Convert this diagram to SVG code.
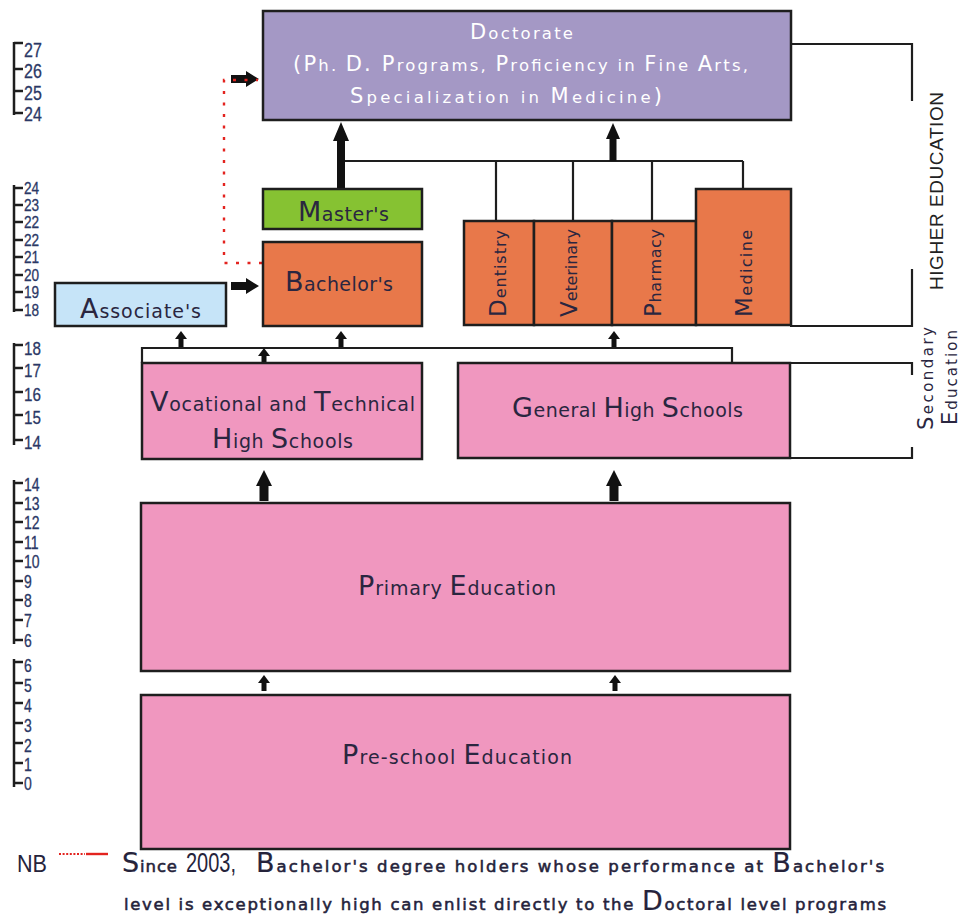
<svg xmlns="http://www.w3.org/2000/svg" width="963" height="915" viewBox="0 0 963 915">
  <style>
    .box { stroke: #1e1e1e; stroke-width: 2.5; }
    .doc { fill: #a498c5; }
    .mas { fill: #86c232; }
    .org { fill: #e8784a; }
    .asc { fill: #c6e4f8; }
    .pnk { fill: #f097bf; }
    .ln { fill: none; stroke: #1e1e1e; stroke-width: 2.2; }
    .arw { fill: #111; }
    .t { font-family: "DejaVu Sans", "Liberation Sans", sans-serif; font-size: 19px; fill: #2a2640; }
    .t .b { font-size: 27px; }
    .w { fill: #ffffff; font-size: 16.5px; }
    .w .b { font-size: 21px; }
    .v { font-size: 16px; }
    .v .b { font-size: 23px; }
    .sec { font-size: 15px; }
    .sec .b { font-size: 21px; }
    .age { font-family: "Liberation Sans", Arial, sans-serif; fill: #2b3866; stroke: #2b3866; stroke-width: 0.3; }
    .scale { fill: none; stroke: #1e1e1e; stroke-width: 2.5; }
    .nb { font-family: "DejaVu Sans", "Liberation Sans", sans-serif; font-size: 16.5px; fill: #25233b; stroke: #25233b; stroke-width: 0.55; }
    .nb .b { font-size: 27px; stroke-width: 0.2; }
    .hd { font-family: "Liberation Sans", Arial, sans-serif; font-size: 19px; fill: #222; }
  </style>

  <!-- age scales -->
  <g id="age-scales">
    <path class="scale" d="M14,42 V115 M14,43 H23 M14,69 H23 M14,91 H23 M14,113 H23"/>
    <path class="scale" d="M14,185 V312 M14,188 H23 M14,205 H23 M14,222 H23 M14,240 H23 M14,257 H23 M14,275 H23 M14,292 H23 M14,310 H23"/>
    <path class="scale" d="M14,343 V445 M14,345 H23 M14,368 H23 M14,392 H23 M14,415 H23 M14,440 H23"/>
    <path class="scale" d="M14,480 V644 M14,483 H23 M14,503 H23 M14,522 H23 M14,542 H23 M14,561 H23 M14,581 H23 M14,600 H23 M14,620 H23 M14,640 H23"/>
    <path class="scale" d="M14,659 V787 M14,662 H23 M14,683 H23 M14,703 H23 M14,723 H23 M14,743 H23 M14,763 H23 M14,783 H23"/>
    <g class="age" transform="scale(0.8 1)">
      <g font-size="20">
        <text x="30" y="57">27</text>
        <text x="30" y="78.5">26</text>
        <text x="30" y="100">25</text>
        <text x="30" y="121">24</text>
      </g>
      <g font-size="17">
        <text x="30" y="194">24</text>
        <text x="30" y="211">23</text>
        <text x="30" y="228">22</text>
        <text x="30" y="246">22</text>
        <text x="30" y="263">21</text>
        <text x="30" y="281">20</text>
        <text x="30" y="298">19</text>
        <text x="30" y="316">18</text>
      </g>
      <g font-size="19">
        <text x="30" y="355">18</text>
        <text x="30" y="377">17</text>
        <text x="30" y="401">16</text>
        <text x="30" y="424">15</text>
        <text x="30" y="449">14</text>
      </g>
      <g font-size="17.5">
        <text x="30" y="491">14</text>
        <text x="30" y="510">13</text>
        <text x="30" y="529">12</text>
        <text x="30" y="549">11</text>
        <text x="30" y="568">10</text>
        <text x="30" y="588">9</text>
        <text x="30" y="607">8</text>
        <text x="30" y="627">7</text>
        <text x="30" y="647">6</text>
      </g>
      <g font-size="17.5">
        <text x="30" y="672">6</text>
        <text x="30" y="692">5</text>
        <text x="30" y="712">4</text>
        <text x="30" y="732">3</text>
        <text x="30" y="752">2</text>
        <text x="30" y="771">1</text>
        <text x="30" y="790">0</text>
      </g>
    </g>
  </g>

  <!-- connectors, arrows and brackets -->
  <g id="connectors">
    <path class="ln" d="M345,161 H743 M496,161 V221 M573,161 V221 M652,161 V221 M743,161 V189"/>
    <path class="ln" d="M142,363 V348 H732 V364"/>
    <path class="ln" d="M791,44 H912 V101 M912,269 V326 H790 M790,363 H912 V375 M912,447 V458 H790"/>

    <!-- thick arrows -->
    <path class="arw" d="M231,282 H246 V278 L259,286 L246,294 V290 H231 Z"/>
    <path class="arw" d="M231,75 H246 V71 L259,79 L246,87 V83 H231 Z"/>
    <path class="arw" d="M337,189 V141 H333 L341,122 L349,141 H345 V189 Z"/>
    <path class="arw" d="M609.5,161 V139 H606 L613,123 L620,139 H616.5 V161 Z"/>
    <path class="arw" d="M259.5,501 V486 H256 L264,470 L272,486 H268.5 V501 Z"/>
    <path class="arw" d="M609.5,501 V486 H606 L614,470 L622,486 H618.5 V501 Z"/>

    <!-- small arrows -->
    <path class="arw" d="M178.5,347 V339 H175 L181,331 L187,339 H183.5 V347 Z"/>
    <path class="arw" d="M338.5,347 V339 H335 L341,331 L347,339 H343.5 V347 Z"/>
    <path class="arw" d="M611.5,347 V339 H608 L614,331 L620,339 H616.5 V347 Z"/>
    <path class="arw" d="M261.5,363 V356 H258 L264,348 L270,356 H266.5 V363 Z"/>
    <path class="arw" d="M261.5,691 V683 H258 L264,675 L270,683 H266.5 V691 Z"/>
    <path class="arw" d="M612.5,691 V683 H609 L615,675 L621,683 H617.5 V691 Z"/>

    <!-- direct route from Bachelor's to Doctorate -->
    <path d="M262,263 H224 V80 H258" fill="none" stroke="#e3231f" stroke-width="2.4" stroke-dasharray="3 8.5"/>
  </g>

  <g id="doctorate">
    <rect class="box doc" x="263" y="11" width="528" height="109"/>
    <text class="t w" x="470" y="39" textLength="103" lengthAdjust="spacing"><tspan class="b">D</tspan>octorate</text>
    <text class="t w" x="293" y="71" textLength="455" lengthAdjust="spacing"><tspan class="b">(P</tspan>h. <tspan class="b">D. P</tspan>rograms, <tspan class="b">P</tspan>roficiency in <tspan class="b">F</tspan>ine <tspan class="b">A</tspan>rts,</text>
    <text class="t w" x="350" y="103" textLength="312" lengthAdjust="spacing"><tspan class="b">S</tspan>pecialization in <tspan class="b">M</tspan>edicine<tspan class="b">)</tspan></text>
  </g>

  <g id="masters">
    <rect class="box mas" x="263" y="189" width="159" height="40"/>
    <text class="t" x="298" y="221" textLength="91" lengthAdjust="spacing"><tspan class="b">M</tspan>aster's</text>
  </g>

  <g id="bachelors">
    <rect class="box org" x="263" y="242" width="159" height="84"/>
    <text class="t" x="285" y="291" textLength="108" lengthAdjust="spacing"><tspan class="b">B</tspan>achelor's</text>
  </g>

  <g id="associates">
    <rect class="box asc" x="55" y="283" width="171" height="43"/>
    <text class="t" x="80" y="318" textLength="121" lengthAdjust="spacing"><tspan class="b">A</tspan>ssociate's</text>
  </g>

  <g id="dentistry">
    <rect class="box org" x="464" y="221" width="70" height="104"/>
    <text class="t v" transform="translate(506,317) rotate(-90)" textLength="87" lengthAdjust="spacing"><tspan class="b">D</tspan>entistry</text>
  </g>
  <g id="veterinary">
    <rect class="box org" x="534" y="221" width="78" height="104"/>
    <text class="t v" transform="translate(577,317) rotate(-90)" textLength="88" lengthAdjust="spacing"><tspan class="b">V</tspan>eterinary</text>
  </g>
  <g id="pharmacy">
    <rect class="box org" x="612" y="221" width="84" height="104"/>
    <text class="t v" transform="translate(661,317) rotate(-90)" textLength="88" lengthAdjust="spacing"><tspan class="b">P</tspan>harmacy</text>
  </g>
  <g id="medicine">
    <rect class="box org" x="696" y="189" width="95" height="136"/>
    <text class="t v" transform="translate(752,317) rotate(-90)" textLength="87" lengthAdjust="spacing"><tspan class="b">M</tspan>edicine</text>
  </g>

  <g id="vocational">
    <rect class="box pnk" x="142" y="363" width="280" height="96"/>
    <text class="t" x="150" y="411" textLength="265" lengthAdjust="spacing"><tspan class="b">V</tspan>ocational and <tspan class="b">T</tspan>echnical</text>
    <text class="t" x="212" y="448" textLength="141" lengthAdjust="spacing"><tspan class="b">H</tspan>igh <tspan class="b">S</tspan>chools</text>
  </g>

  <g id="general">
    <rect class="box pnk" x="458" y="363" width="332" height="95"/>
    <text class="t" x="512" y="417" textLength="231" lengthAdjust="spacing"><tspan class="b">G</tspan>eneral <tspan class="b">H</tspan>igh <tspan class="b">S</tspan>chools</text>
  </g>

  <g id="primary">
    <rect class="box pnk" x="141" y="503" width="649" height="168"/>
    <text class="t" x="358" y="595" textLength="198" lengthAdjust="spacing"><tspan class="b">P</tspan>rimary <tspan class="b">E</tspan>ducation</text>
  </g>

  <g id="preschool">
    <rect class="box pnk" x="141" y="695" width="649" height="154"/>
    <text class="t" x="342" y="764" textLength="230" lengthAdjust="spacing"><tspan class="b">P</tspan>re-school <tspan class="b">E</tspan>ducation</text>
  </g>

  <!-- level labels at the right -->
  <g id="levels">
    <text class="hd" transform="translate(943,290) rotate(-90)" textLength="198" lengthAdjust="spacing">HIGHER EDUCATION</text>
    <text class="t sec" transform="translate(933,430) rotate(-90)" textLength="103" lengthAdjust="spacing"><tspan class="b">S</tspan>econdary</text>
    <text class="t sec" transform="translate(957,425) rotate(-90)" textLength="95" lengthAdjust="spacing"><tspan class="b">E</tspan>ducation</text>
  </g>

  <!-- footnote -->
  <g id="note">
    <text x="17" y="872" font-family="Liberation Sans, Arial, sans-serif" font-size="23" fill="#25233b" textLength="30" lengthAdjust="spacingAndGlyphs">NB</text>
    <path d="M59,854 H85" stroke="#e3231f" stroke-width="2" stroke-dasharray="2 1.6"/>
    <path d="M86,854 H108" stroke="#e3231f" stroke-width="2.4"/>
    <text class="nb" x="122" y="872" textLength="55" lengthAdjust="spacing"><tspan class="b">S</tspan>ince</text>
    <text x="186" y="872" font-family="Liberation Sans, Arial, sans-serif" font-size="28" fill="#25233b" textLength="50" lengthAdjust="spacingAndGlyphs">2003,</text>
    <text class="nb" x="256" y="872" textLength="628" lengthAdjust="spacing"><tspan class="b">B</tspan>achelor's degree holders whose performance at <tspan class="b">B</tspan>achelor's</text>
    <text class="nb" x="124" y="910" textLength="762" lengthAdjust="spacing">level is exceptionally high can enlist directly to the <tspan class="b">D</tspan>octoral level programs</text>
  </g>
</svg>
